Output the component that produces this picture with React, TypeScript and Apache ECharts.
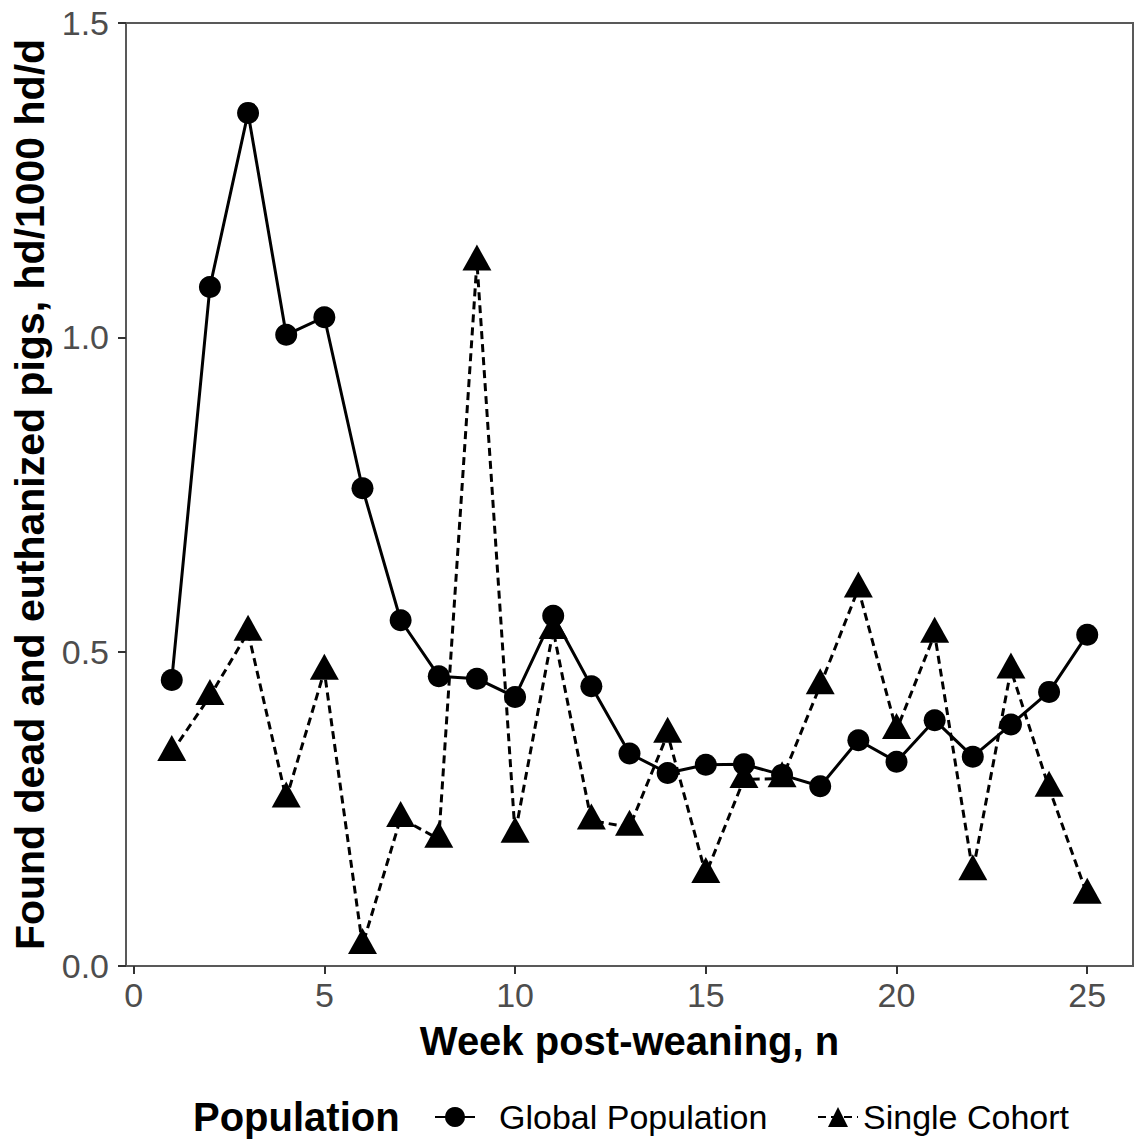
import React, { useEffect, useRef } from "react";
import * as echarts from "echarts";

// Weekly mortality (found dead + euthanized), hd/1000 hd/d
const weeks = [1, 2, 3, 4, 5, 6, 7, 8, 9, 10, 11, 12, 13, 14, 15, 16, 17, 18, 19, 20, 21, 22, 23, 24, 25];
const globalPopulation = [
  0.455, 1.08, 1.357, 1.004, 1.032, 0.76, 0.55, 0.461, 0.457, 0.428, 0.557, 0.445, 0.338,
  0.307, 0.32, 0.321, 0.304, 0.286, 0.359, 0.325, 0.391, 0.333, 0.384, 0.436, 0.527,
];
const singleCohort = [
  0.34, 0.429, 0.531, 0.266, 0.469, 0.033, 0.235, 0.202, 1.12, 0.21, 0.534, 0.231, 0.221,
  0.369, 0.146, 0.297, 0.298, 0.446, 0.6, 0.375, 0.528, 0.15, 0.471, 0.283, 0.113,
];
const xTicks = [0, 5, 10, 15, 20, 25];
const seriesNames = ["Global Population", "Single Cohort"];

const FONT = "'Liberation Sans', Arial, Helvetica, sans-serif";
const AXIS_GREY = "#595959";
const TICK_GREY = "#333333";
const LABEL_GREY = "#4d4d4d";

export default function App() {
  const ref = useRef<HTMLDivElement>(null);

  useEffect(() => {
    if (!ref.current) return;
    const chart = echarts.init(ref.current, null, { renderer: "svg" });

    const triH = 26;
    const legendBase = {
      top: 1095,
      itemWidth: 40,
      itemHeight: 25,
      selectedMode: false,
    };

    chart.setOption({
      animation: false,
      backgroundColor: "#ffffff",
      textStyle: { fontFamily: FONT },
      grid: {
        left: 126,
        top: 23,
        right: 6,
        bottom: 177,
        show: true,
        borderColor: AXIS_GREY,
        borderWidth: 2,
        backgroundColor: "transparent",
      },
      xAxis: {
        type: "value",
        min: -0.2,
        max: 26.2,
        splitLine: { show: false },
        axisLine: { show: true, onZero: false, lineStyle: { color: AXIS_GREY, width: 2 } },
        axisTick: { show: true, customValues: xTicks, length: 8, lineStyle: { color: TICK_GREY, width: 2 } },
        axisLabel: { customValues: xTicks, fontSize: 34, color: LABEL_GREY, margin: 12, fontFamily: FONT },
        name: "Week post-weaning, n",
        nameLocation: "middle",
        nameGap: 55,
        nameTextStyle: { fontSize: 40, fontWeight: "bold", color: "#000", fontFamily: FONT },
      },
      yAxis: {
        type: "value",
        min: 0,
        max: 1.5,
        interval: 0.5,
        splitLine: { show: false },
        axisLine: { show: true, onZero: false, lineStyle: { color: AXIS_GREY, width: 2 } },
        axisTick: { show: true, length: 8, lineStyle: { color: TICK_GREY, width: 2 } },
        axisLabel: {
          fontSize: 34,
          color: LABEL_GREY,
          margin: 17,
          fontFamily: FONT,
          formatter: (v: number) => v.toFixed(1),
        },
        name: "Found dead and euthanized pigs, hd/1000 hd/d",
        nameLocation: "middle",
        nameGap: 75,
        nameRotate: 90,
        nameTextStyle: { fontSize: 41, fontWeight: "bold", color: "#000", fontFamily: FONT },
      },
      legend: [
        {
          ...legendBase,
          data: [seriesNames[0]],
          left: 429,
          textStyle: { fontSize: 34, color: "#000", fontFamily: FONT, padding: [0, 0, 0, 19] },
        },
        {
          ...legendBase,
          data: [seriesNames[1]],
          left: 812,
          textStyle: { fontSize: 34, color: "#000", fontFamily: FONT, padding: [0, 0, 0, 0] },
        },
      ],
      graphic: [
        {
          type: "text",
          left: 193,
          top: 1097,
          style: {
            text: "Population",
            font: `bold 40px ${FONT}`,
            fill: "#000",
          },
        },
      ],
      series: [
        {
          name: seriesNames[0],
          type: "line",
          data: weeks.map((w, i) => [w, globalPopulation[i]]),
          symbol: "circle",
          symbolSize: 22,
          itemStyle: { color: "#000" },
          lineStyle: { color: "#000", width: 3, type: "solid" },
          z: 3,
        },
        {
          name: seriesNames[1],
          type: "line",
          data: weeks.map((w, i) => [w, singleCohort[i]]),
          symbol: "triangle",
          symbolSize: [29, triH],
          symbolOffset: [0, -triH / 6],
          itemStyle: { color: "#000" },
          lineStyle: { color: "#000", width: 3, type: [8, 5] },
          z: 2,
        },
      ],
    });

    return () => chart.dispose();
  }, []);

  return (
    <div
      ref={ref}
      style={{ position: "absolute", left: 0, top: 0, width: 1139, height: 1143, background: "#fff" }}
    />
  );
}
